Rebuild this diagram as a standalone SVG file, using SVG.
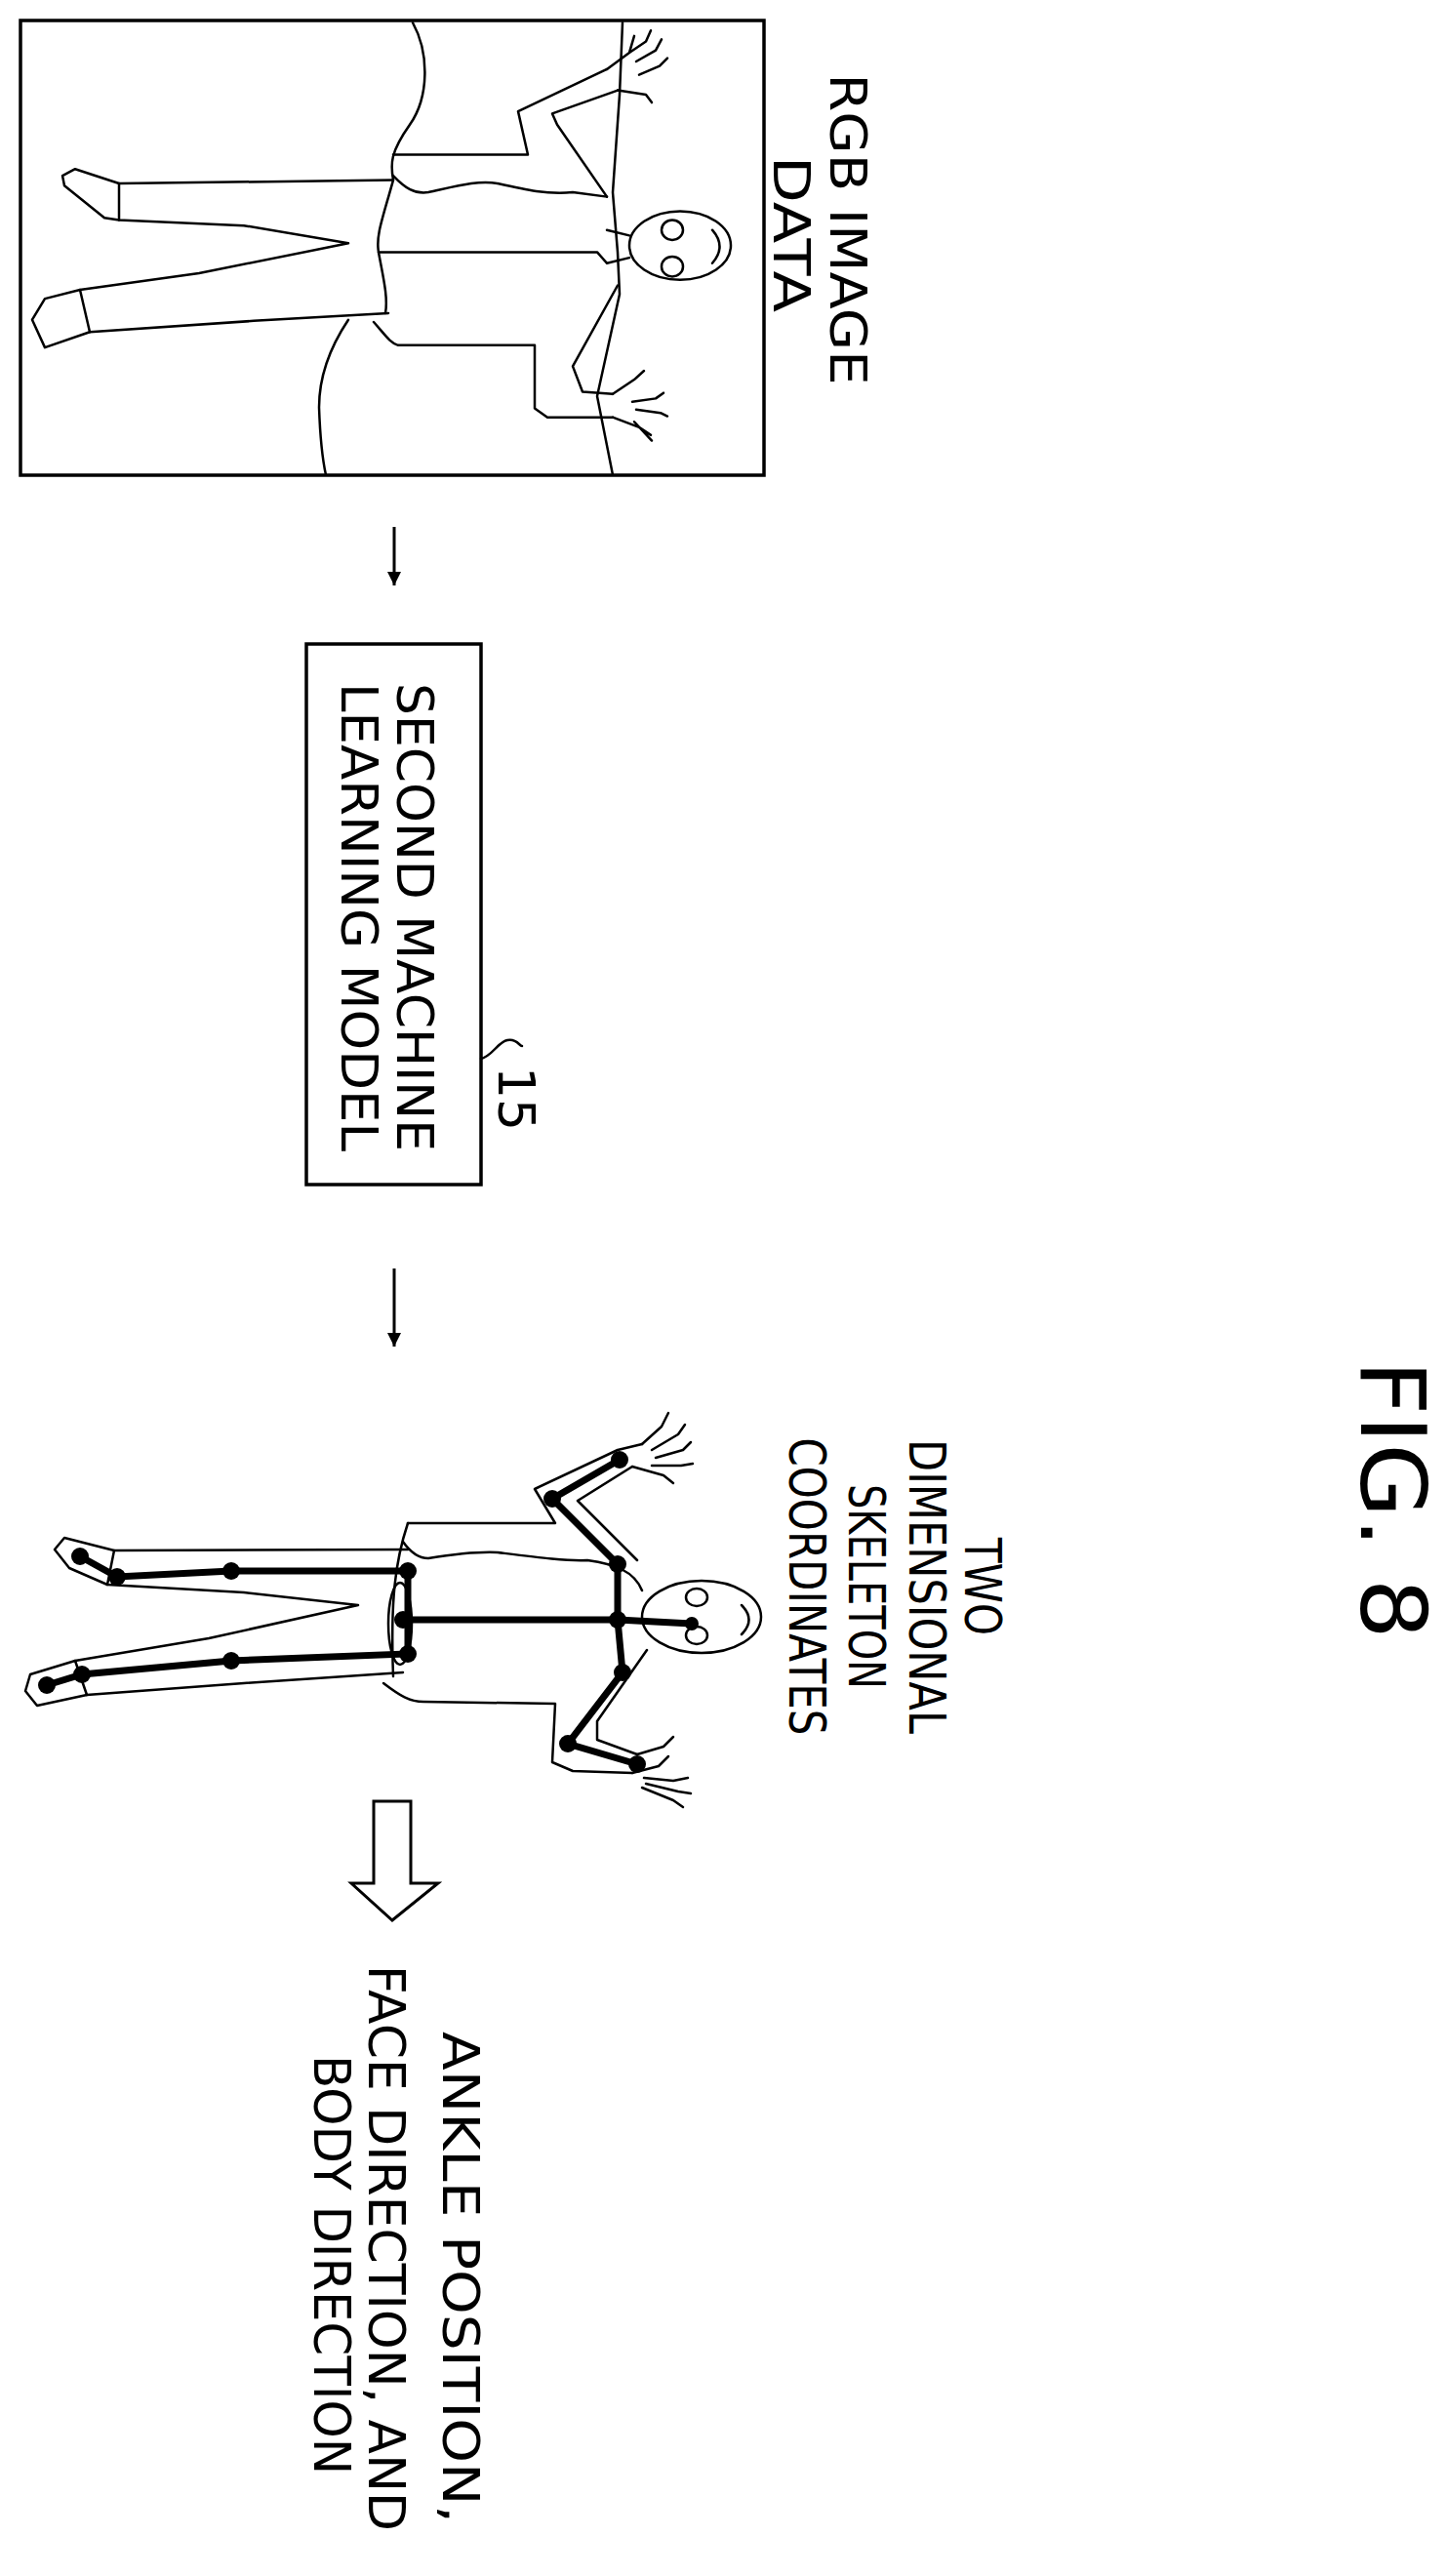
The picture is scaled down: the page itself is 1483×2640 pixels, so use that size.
<svg xmlns="http://www.w3.org/2000/svg" width="1483" height="2640" viewBox="0 0 1483 2640">
<defs>
<marker id="ah" viewBox="0 0 10 10" refX="10" refY="5" markerWidth="14" markerHeight="14" markerUnits="userSpaceOnUse" orient="auto"><path d="M0,0 L10,5 L0,10 Z" fill="#000"/></marker>
</defs>
<style>
text{font-family:"DejaVu Sans","Liberation Sans",sans-serif;fill:#000}
.lb{font-size:52px}
.ln{fill:none;stroke:#000;stroke-width:2.5;stroke-linejoin:round;stroke-linecap:round}
.ln *{vector-effect:non-scaling-stroke}
.sk{fill:none;stroke:#000;stroke-width:7;stroke-linecap:round}
.box{fill:none;stroke:#000;stroke-width:3.5}
</style>
<rect width="1483" height="2640" fill="#fff"/>

<g id="rgb-image">
<rect class="box" x="21" y="21" width="762" height="466"/>
<g class="ln" transform="matrix(1,0,0,1.136,0,-2.86)">
<path d="M423,23 C440,50 440,90 420,115 C400,140 400,150 403,165 C392,200 385,215 388,230 C392,250 398,270 395,285"/>
<path d="M357,291 C335,320 327,345 327,370 C328,395 330,415 334,431"/>
<path d="M638,23 L635,88 L628,176 L633,230 L635,268 L612,360 L628,431"/>
<path d="M403,165 L122,168 L77,155 L64,161 L66,170 L107,199 L122,201 L250,206 L357,222 L204,249 L82,264 L46,272 L33,291 L46,316 L92,302 L260,292 L398,285"/>
<path d="M122,168 L122,201 M82,264 L92,302"/>
<path d="M403,142 L541,142 L531,103 L622,65"/>
<path d="M403,161 C415,172 425,178 439,176 C470,170 490,165 510,168 C540,174 560,178 587,176 L622,180"/>
<path d="M622,180 L571,115 L566,105 L633,84"/>
<path d="M383,293 C395,305 400,312 408,314 L548,314 L548,371 L561,379 L628,379"/>
<path d="M633,260 L587,333 L597,356 L628,358"/>
<path d="M388,230 L612,230 L622,240"/>
<path d="M622,65 L645,50 L650,35 M645,50 L662,40 L667,30 M652,58 L672,48 L678,38 M655,70 L676,62 L684,55 M633,84 L662,88 L668,95"/>
<path d="M628,358 L650,345 L660,337 M628,379 L655,388 L667,395 M648,365 L672,362 L680,357 M652,372 L677,375 L684,378 M650,383 L668,400"/>
<ellipse cx="697" cy="224" rx="52" ry="31"/>
<ellipse cx="689" cy="210" rx="11" ry="9"/>
<ellipse cx="689" cy="243" rx="11" ry="9"/>
<path d="M622,210 L645,215 M622,240 L645,235 M730,210 C740,220 740,230 730,240"/>
</g>
<text class="lb" transform="translate(851,235) rotate(90)" text-anchor="middle" textLength="319" lengthAdjust="spacingAndGlyphs">RGB IMAGE</text>
<text class="lb" transform="translate(793,240) rotate(90)" text-anchor="middle" textLength="160" lengthAdjust="spacingAndGlyphs">DATA</text>
</g>

<g id="model">
<rect class="box" x="314" y="660" width="179" height="554"/>
<text class="lb" transform="translate(407,940) rotate(90)" text-anchor="middle" textLength="480" lengthAdjust="spacingAndGlyphs">SECOND MACHINE</text>
<text class="lb" transform="translate(350,940) rotate(90)" text-anchor="middle" textLength="480" lengthAdjust="spacingAndGlyphs">LEARNING MODEL</text>
<path class="ln" d="M493,1085 C505,1082 510,1068 520,1066 C530,1064 532,1072 535,1072"/>
<text class="lb" transform="translate(511,1126) rotate(90)" text-anchor="middle">15</text>
</g>

<g id="skeleton">
<g class="ln">
<path d="M418,1588 L117,1589 L66,1576 L56,1588 L71,1607 L110,1624 L250,1632 L367,1645 L214,1679 L77,1702 L31,1716 L26,1733 L38,1748 L89,1737 L250,1725 L413,1714"/>
<path d="M117,1589 L110,1624 M77,1702 L89,1737"/>
<path d="M418,1561 L569,1561 L548,1526 L633,1486 L658,1480"/>
<path d="M413,1580 C420,1590 428,1597 439,1597 C470,1592 490,1590 510,1591 C550,1596 580,1600 602,1599 C630,1603 650,1610 658,1630"/>
<path d="M653,1599 L592,1538 L648,1503"/>
<path d="M393,1725 C410,1738 420,1744 434,1744 L569,1746 L566,1806 L587,1815 L648,1817"/>
<path d="M663,1691 L612,1764 L612,1783 L653,1798"/>
<path d="M418,1561 C405,1600 400,1640 403,1718"/>
<ellipse cx="410" cy="1664" rx="12" ry="42"/>
<path d="M658,1480 L678,1462 L685,1448 M668,1486 L695,1470 L702,1460 M672,1494 L700,1486 L708,1478 M668,1502 L698,1502 L710,1500 M648,1503 L680,1512 L690,1520"/>
<path d="M648,1817 L675,1810 L685,1800 M660,1822 L690,1825 L705,1822 M662,1828 L695,1836 L708,1838 M658,1832 L690,1845 L700,1852 M653,1798 L680,1790 L690,1780"/>
<ellipse cx="719" cy="1657" rx="61" ry="37"/>
<ellipse cx="714" cy="1637" rx="11" ry="9"/>
<ellipse cx="714" cy="1676" rx="11" ry="9"/>
<path d="M760,1645 C770,1655 770,1665 760,1675"/>
</g>
<g class="sk">
<path d="M82,1595 L120,1616 L237,1610 L418,1610 L418,1695 L237,1702 L84,1716 L48,1727"/>
<path d="M413,1660 L633,1660 L709,1664"/>
<path d="M635,1496 L566,1536 L633,1603 L633,1660 L638,1714 L582,1787 L653,1808"/>
</g>
<g fill="#000">
<circle cx="82" cy="1595" r="9"/><circle cx="120" cy="1616" r="9"/><circle cx="237" cy="1610" r="9"/>
<circle cx="418" cy="1610" r="9"/><circle cx="418" cy="1695" r="9"/><circle cx="237" cy="1702" r="9"/>
<circle cx="84" cy="1716" r="9"/><circle cx="48" cy="1727" r="9"/><circle cx="413" cy="1660" r="9"/>
<circle cx="633" cy="1660" r="9"/><circle cx="709" cy="1664" r="7"/><circle cx="635" cy="1496" r="9"/>
<circle cx="566" cy="1536" r="9"/><circle cx="633" cy="1603" r="9"/><circle cx="638" cy="1714" r="9"/>
<circle cx="582" cy="1787" r="9"/><circle cx="653" cy="1808" r="9"/>
</g>
<g class="lb">
<text transform="translate(989,1626) rotate(90)" text-anchor="middle" textLength="100" lengthAdjust="spacingAndGlyphs">TWO</text>
<text transform="translate(932,1626) rotate(90)" text-anchor="middle" textLength="302" lengthAdjust="spacingAndGlyphs">DIMENSIONAL</text>
<text transform="translate(870,1626) rotate(90)" text-anchor="middle" textLength="210" lengthAdjust="spacingAndGlyphs">SKELETON</text>
<text transform="translate(809,1626) rotate(90)" text-anchor="middle" textLength="305" lengthAdjust="spacingAndGlyphs">COORDINATES</text>
</g>
</g>

<g id="output">
<text class="lb" transform="translate(454,2334) rotate(90)" text-anchor="middle" textLength="504" lengthAdjust="spacingAndGlyphs">ANKLE POSITION,</text>
<text class="lb" transform="translate(378,2304) rotate(90)" text-anchor="middle" textLength="580" lengthAdjust="spacingAndGlyphs">FACE DIRECTION, AND</text>
<text class="lb" transform="translate(322,2321) rotate(90)" text-anchor="middle" textLength="430" lengthAdjust="spacingAndGlyphs">BODY DIRECTION</text>
</g>

<g id="connectors">
<line x1="404" y1="540" x2="404" y2="600" stroke="#000" stroke-width="3" marker-end="url(#ah)"/>
<line x1="404" y1="1300" x2="404" y2="1380" stroke="#000" stroke-width="3" marker-end="url(#ah)"/>
<path d="M383,1846 L421,1846 L421,1930 L449,1930 L402,1968 L360,1930 L383,1930 Z" fill="#fff" stroke="#000" stroke-width="3" stroke-linejoin="miter"/>
</g>

<text transform="translate(1395,1537) rotate(90)" text-anchor="middle" font-size="92" textLength="286" lengthAdjust="spacingAndGlyphs">FIG. 8</text>
</svg>
